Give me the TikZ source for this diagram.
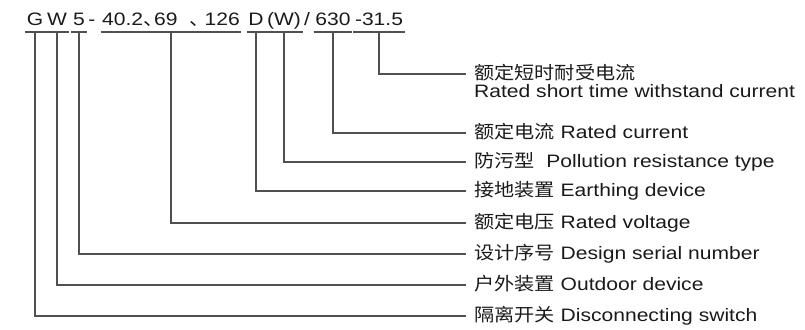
\documentclass[tikz,border=0pt]{standalone}
\usepackage{fontspec}
\setmainfont{Liberation Sans}[FakeStretch=1.17]
\newfontfamily\cjk{Noto Sans CJK SC}[FakeStretch=1.12]
\usetikzlibrary{positioning}
\definecolor{leadgray}{HTML}{505050}
\definecolor{inkblack}{HTML}{1A1A1A}
\tikzset{
  codepart/.style={anchor=base,inner xsep=1.5pt,inner ysep=0pt,font=\fontsize{18}{20}\selectfont,text=inkblack},
  uline/.style={leadgray,line width=1.1pt},
  leader/.style={leadgray,line width=1.1pt},
  meaning/.style={anchor=west,inner xsep=8pt,inner ysep=0pt,text height=11pt,text depth=0pt,font=\fontsize{18}{20}\selectfont,text=inkblack}
}
\newcommand{\dunhao}[1]{\makebox[#1][l]{\cjk 、}}
\begin{document}
\begin{tikzpicture}[x=1pt,y=-1pt]
\useasboundingbox (0,0) rectangle (805,329);
\coordinate (ul) at (0,32);
\node[codepart] (mG) at (35,26) {G};
\node[codepart] (mW) at (57,26) {W};
\node[codepart] (m5) at (79,26) {5};
\node[codepart] (mdash) at (92,26) {-};
\node[codepart] (mV) at (171,26) {40.2\dunhao{11pt}69\hspace{12pt}\dunhao{15pt}126};
\node[codepart] (mD) at (256,26) {D};
\node[codepart] (mWp) at (284,26) {(W)};
\node[codepart] (mslash) at (307,26) {/};
\node[codepart] (m630) at (333,26) {630};
\node[codepart] (m31) at (379,26) {-31.5};

\node[meaning] (l31) at (466,74) {{\cjk 额定短时耐受电流}};
\node[meaning,anchor=base west] (l31en) at ([yshift=-18pt]l31.base west) {Rated short time withstand current};
\node[meaning] (l630) at (466,133) {{\cjk 额定电流} Rated current};
\node[meaning] (lWp) at (466,162) {{\cjk 防污型}\ \ Pollution resistance type};
\node[meaning] (lD) at (466,191) {{\cjk 接地装置} Earthing device};
\node[meaning] (lV) at (466,223) {{\cjk 额定电压} Rated voltage};
\node[meaning] (l5) at (466,254) {{\cjk 设计序号} Design serial number};
\node[meaning] (lW) at (466,285) {{\cjk 户外装置} Outdoor device};
\node[meaning] (lG) at (466,316) {{\cjk 隔离开关} Disconnecting switch};

\foreach \m in {mG,mW,m5,mV,mD,mWp,m630,m31}
  \draw[uline] (\m.west |- ul) -- (\m.east |- ul);
\foreach \m/\l in {m31/l31,m630/l630,mWp/lWp,mD/lD,mV/lV,m5/l5,mW/lW,mG/lG}
  \draw[leader] (\m.south |- ul) |- (\l.west);
\end{tikzpicture}
\end{document}
